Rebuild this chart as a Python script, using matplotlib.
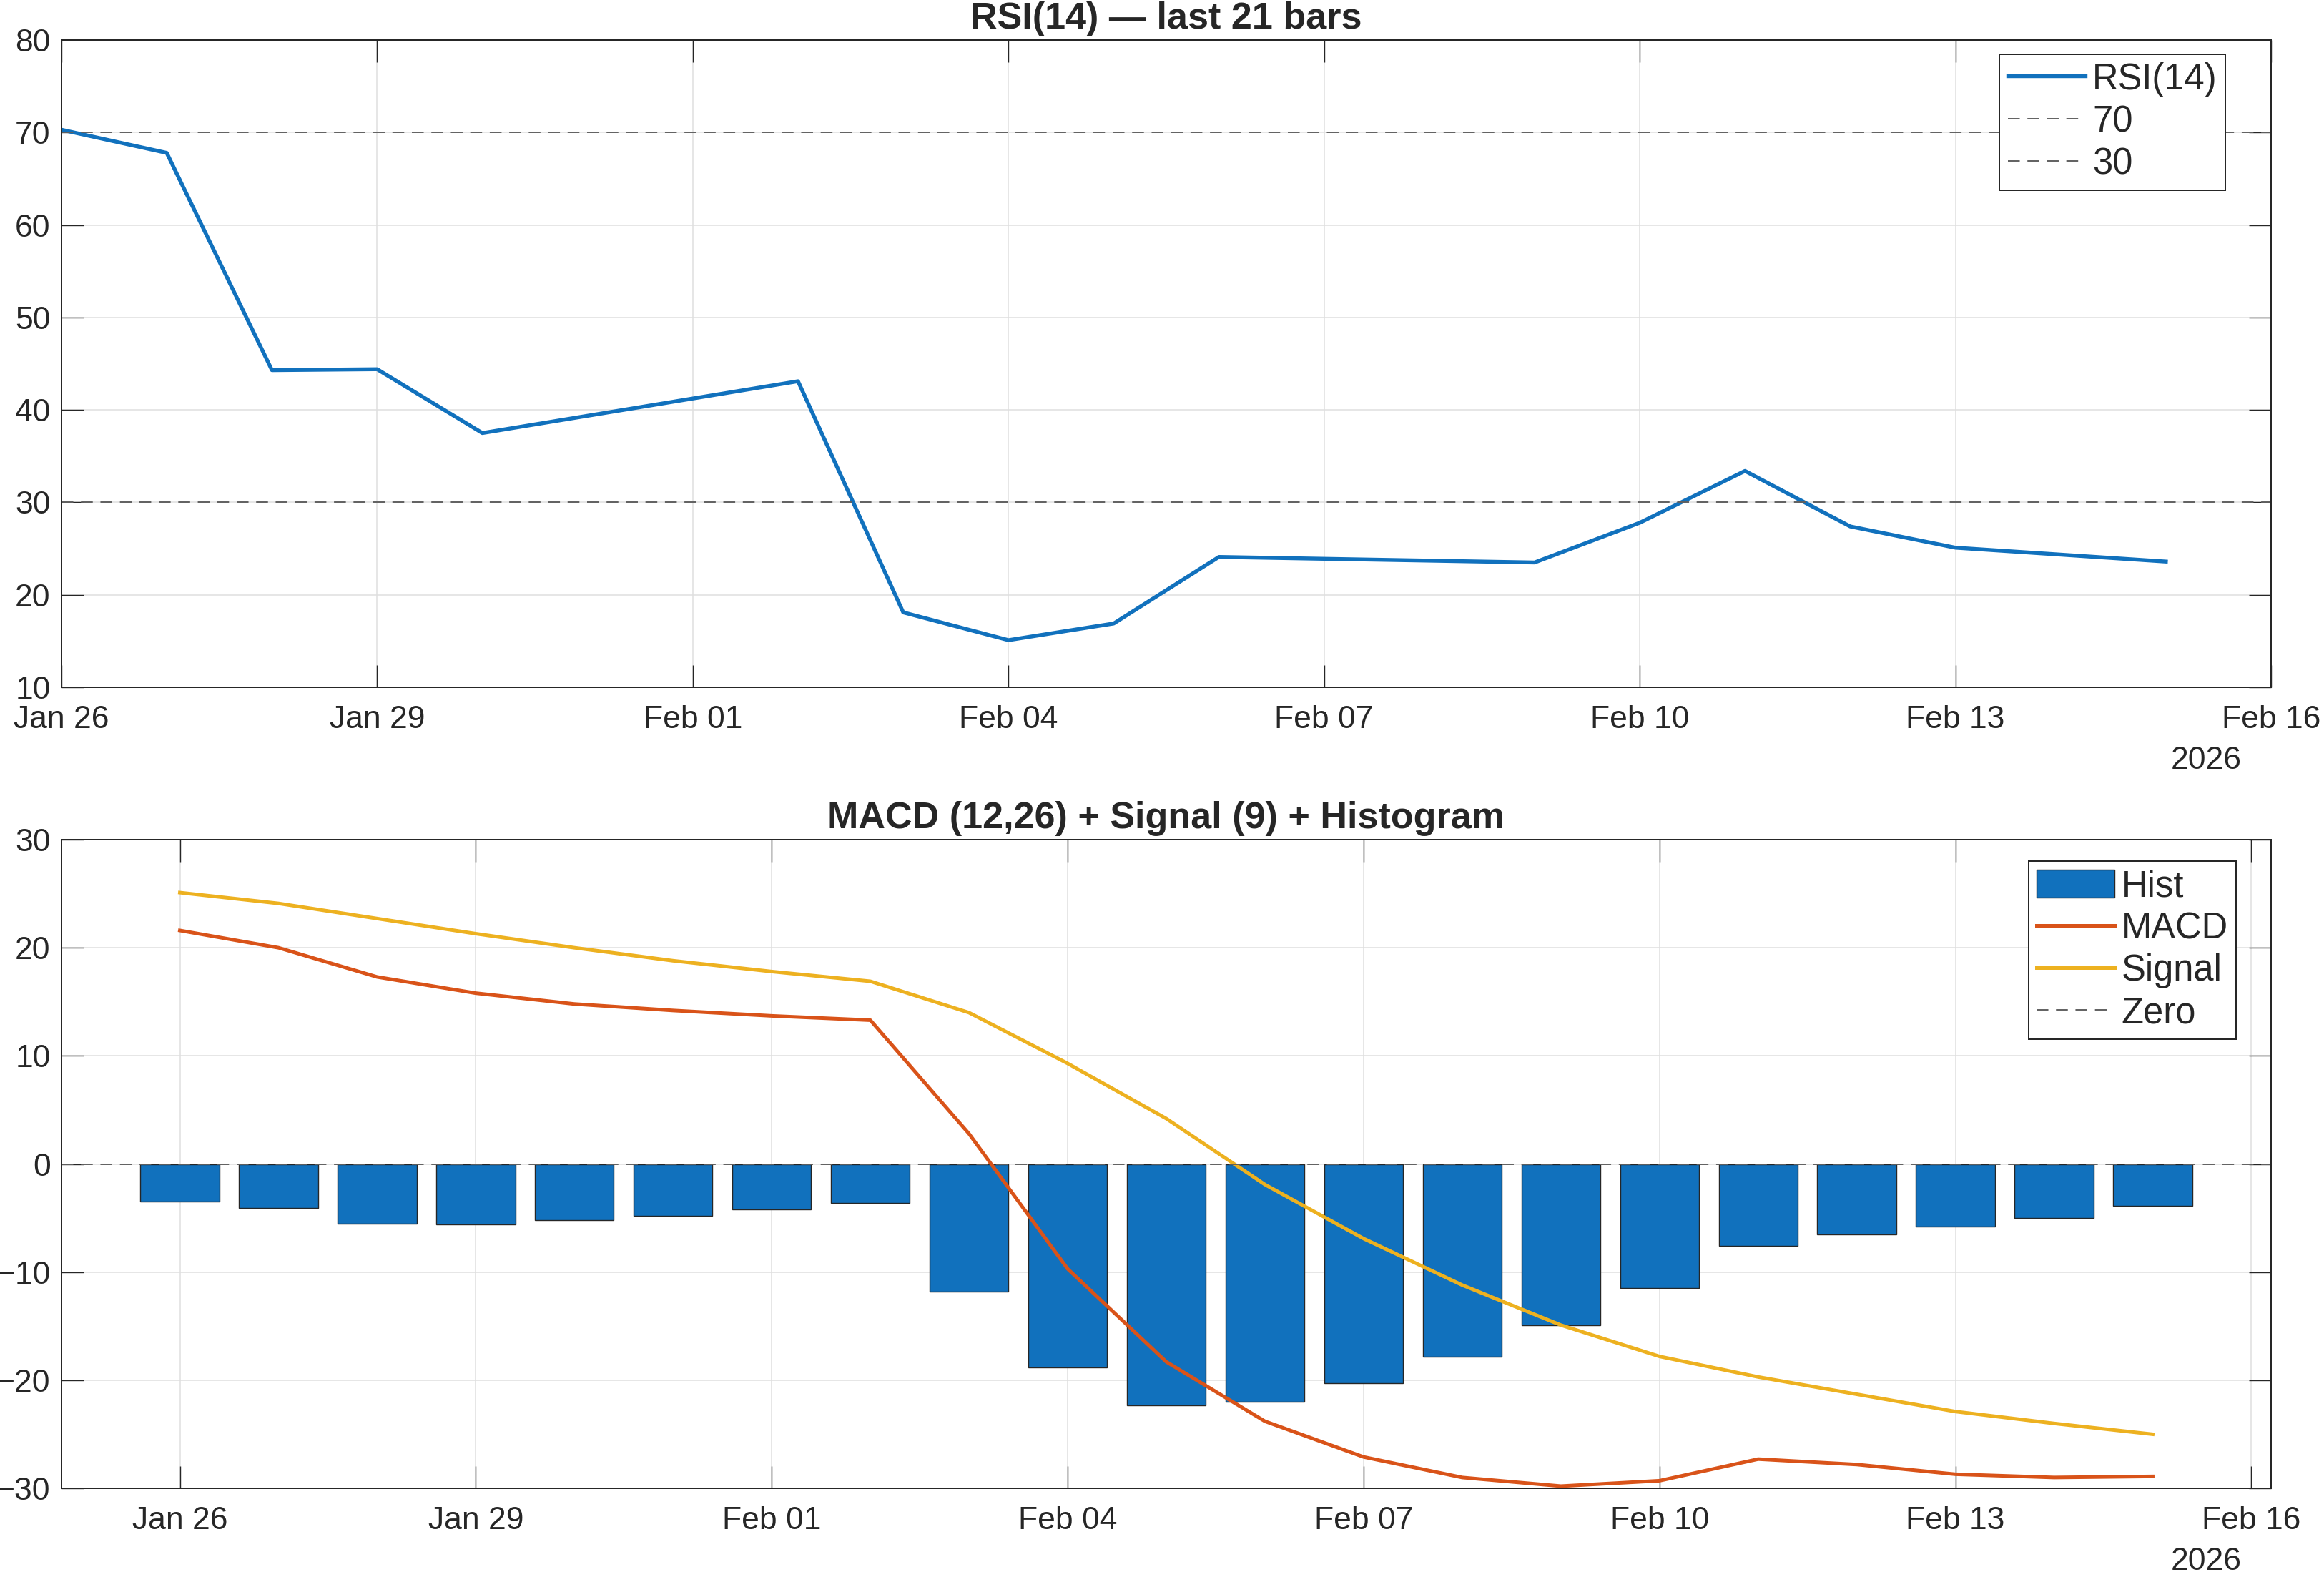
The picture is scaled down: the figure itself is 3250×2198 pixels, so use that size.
import numpy as np
import pandas as pd
import matplotlib
matplotlib.use('Agg')
import matplotlib.pyplot as plt
import matplotlib.dates as mdates

plt.rcParams['font.family'] = ['Liberation Sans', 'DejaVu Sans']

#-------------------------------
# data
#-------------------------------
rsi_dates = pd.to_datetime(['2026-01-26', '2026-01-27', '2026-01-28', '2026-01-29',
                            '2026-01-30', '2026-02-02', '2026-02-03', '2026-02-04',
                            '2026-02-05', '2026-02-06', '2026-02-09', '2026-02-10',
                            '2026-02-11', '2026-02-12', '2026-02-13', '2026-02-15'])
rsi = [70.3, 67.8, 44.3, 44.4, 37.5, 43.1, 18.1, 15.1,
       16.9, 24.1, 23.5, 27.8, 33.4, 27.4, 25.1, 23.6]
rsi_levels = [70, 30]

macd_dates = pd.date_range('2026-01-26', '2026-02-15', freq='D')
hist = [-3.5, -4.1, -5.5, -5.6, -5.2, -4.8, -4.2, -3.6, -11.8, -18.8, -22.3,
        -22.0, -20.3, -17.8, -14.9, -11.5, -7.6, -6.5, -5.8, -5.0, -3.9]
macd = [21.6, 20.0, 17.3, 15.8, 14.8, 14.2, 13.7, 13.3, 2.8, -9.7, -18.3,
        -23.8, -27.1, -29.0, -29.8, -29.3, -27.3, -27.8, -28.7, -29.0, -28.9]
signal = [25.1, 24.1, 22.7, 21.3, 20.0, 18.8, 17.8, 16.9, 14.0, 9.3, 4.2,
          -1.9, -6.9, -11.2, -14.9, -17.8, -19.7, -21.3, -22.9, -24.0, -25.0]

tick_dates = pd.date_range('2026-01-26', '2026-02-16', freq='3D')

BLUE = '#1171BD'
ORANGE = '#D95319'
YELLOW = '#EDB120'
GRAY = '#606060'
DARK = '#262626'
DASH = (0, (8.5, 5.5))

W, H = 3250, 2198


def fx(px):
	return px / W


def fy(py):
	return 1 - py / H


def style_axes(ax, x0, x1):
	ax.set_xlim(x0, x1)
	ax.set_xticks(tick_dates)
	ax.xaxis.set_major_formatter(mdates.DateFormatter('%b %d'))
	ax.grid(True, color='#dfdfdf', lw=1.1)
	ax.set_axisbelow(True)
	ax.tick_params(direction='in', length=22.3, width=1.0, color=DARK,
	               top=True, right=True, labelsize=32, labelcolor=DARK)
	ax.tick_params(axis='x', pad=18)
	ax.tick_params(axis='y', pad=11)
	for sp in ax.spines.values():
		sp.set_color(DARK)
		sp.set_linewidth(1.44)


def add_legend(ax, handles, corner):
	leg = ax.legend(handles=handles, loc='upper right', bbox_to_anchor=corner,
	                bbox_transform=fig.transFigure, borderaxespad=0, fontsize=36.5,
	                handlelength=2.14, handleheight=0.82, handletextpad=0.2,
	                labelspacing=0.2, borderpad=0.22, fancybox=False,
	                framealpha=1, edgecolor=DARK, labelcolor=DARK)
	leg.get_frame().set_linewidth(1.44)


fig = plt.figure(figsize=(W / 100, H / 100), dpi=100)

# RSI panel
ax1 = fig.add_axes([fx(86), fy(961), fx(3176) - fx(86), fy(56) - fy(961)])
h_rsi, = ax1.plot(rsi_dates, rsi, color=BLUE, lw=3.9, label='RSI(14)')
h_lvls = [ax1.axhline(lvl, color=GRAY, lw=1.4, ls=DASH, label=str(lvl)) for lvl in rsi_levels]
ax1.set_ylim(10, 80)
style_axes(ax1, pd.Timestamp('2026-01-26'), pd.Timestamp('2026-02-16'))
ax1.set_title('RSI(14) — last 21 bars', fontsize=37.5, fontweight='bold',
              pad=11.5, color=DARK)
add_legend(ax1, [h_rsi] + h_lvls, (fx(3112), fy(76)))

# MACD panel
ax2 = fig.add_axes([fx(86), fy(2081), fx(3176) - fx(86), fy(1174) - fy(2081)])
h_hist = ax2.bar(macd_dates, hist, width=0.8, color=BLUE, edgecolor=DARK, lw=1.0, label='Hist')
h_macd, = ax2.plot(macd_dates, macd, color=ORANGE, lw=3.6, label='MACD')
h_sig, = ax2.plot(macd_dates, signal, color=YELLOW, lw=3.6, label='Signal')
h_zero = ax2.axhline(0, color=GRAY, lw=1.4, ls=DASH, label='Zero')
ax2.set_ylim(-30, 30)
pad = pd.Timedelta(hours=28.8)
style_axes(ax2, macd_dates[0] - pad, macd_dates[-1] + pad)
ax2.set_title('MACD (12,26) + Signal (9) + Histogram', fontsize=37.5,
              fontweight='bold', pad=11.5, color=DARK)
add_legend(ax2, [h_hist, h_macd, h_sig, h_zero], (fx(3127), fy(1204)))

# year labels under the last tick
fig.text(fx(3135), fy(1043), '2026', ha='right', va='top', fontsize=32, color=DARK)
fig.text(fx(3135), fy(2163), '2026', ha='right', va='top', fontsize=32, color=DARK)

fig.savefig('out.png', dpi=100)
